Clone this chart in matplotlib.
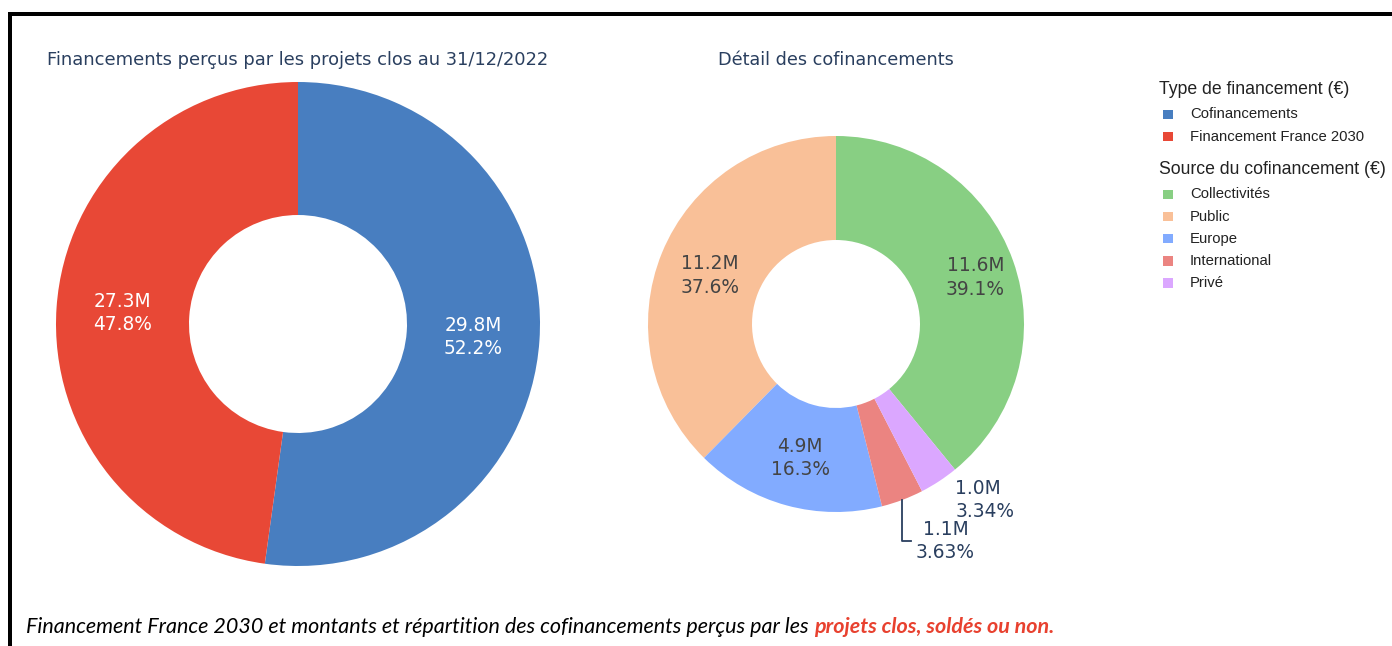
import matplotlib
matplotlib.use("Agg")
import matplotlib.pyplot as plt
from matplotlib.patches import Rectangle
import numpy as np

W, H = 1392, 646

# Financements perçus (M€)
left_labels = ["Cofinancements", "Financement France 2030"]
left_values = [29.8, 27.3]
left_colors = ["#487EC0", "#E84836"]

# Détail des cofinancements (M€)
right_labels = ["Collectivités", "Public", "Europe", "International", "Privé"]
right_values = [11.64, 11.20, 4.86, 1.08, 0.995]
right_colors = ["#88CF83", "#F9C098", "#82ABFF", "#EB8481", "#DBA7FF"]

TITLE_COLOR = "#2a3f5f"
INSIDE_DARK = "#444444"
LABEL_SIZE = 13.4

fig = plt.figure(figsize=(W / 100, H / 100), dpi=100)
ax = fig.add_axes([0, 0, 1, 1])


def Y(py):
    # pixel row (from top) -> data y
    return H - py


def donut(values, colors, cx, cy, radius, hole):
    frac0 = values[0] / sum(values)
    wedges, _ = ax.pie(values, colors=colors, startangle=90 - 360 * frac0,
                       counterclock=True, center=(cx, Y(cy)), radius=radius,
                       wedgeprops=dict(width=radius - hole, linewidth=0))
    return wedges


def fmt(v, total):
    return f"{v:.1f}M\n{100 * v / total:.3g}%"


# --- left donut
lw = donut(left_values, left_colors, 298, 324, 242, 109)
tot = sum(left_values)
for w, v in zip(lw, left_values):
    a = np.deg2rad((w.theta1 + w.theta2) / 2)
    r = (242 + 109) / 2
    ax.text(298 + r * np.cos(a), Y(325) + r * np.sin(a), fmt(v, tot),
            ha="center", va="center", color="white", fontsize=LABEL_SIZE,
            linespacing=1.3)

# --- right donut
rw = donut(right_values, right_colors, 836, 324, 188, 84)
tot = sum(right_values)
for i, (w, v) in enumerate(zip(rw, right_values)):
    a = np.deg2rad((w.theta1 + w.theta2) / 2)
    if v / tot > 0.05:
        r = (188 + 84) / 2 + (12 if i == 0 else 0)
        ax.text(836 + r * np.cos(a), Y(327) + r * np.sin(a), fmt(v, tot),
                ha="center", va="center", color=INSIDE_DARK, fontsize=LABEL_SIZE,
                linespacing=1.3)
    elif right_labels[i] == "Privé":
        ox, oy = 836 + 190 * np.cos(a), Y(324) + 190 * np.sin(a)
        ax.text(ox + 15, oy + 4, fmt(v, tot), ha="left", va="top",
                color=TITLE_COLOR, fontsize=LABEL_SIZE, linespacing=1.3)
    else:
        ox, oy = 836 + 188 * np.cos(a), Y(324) + 188 * np.sin(a)
        ax.plot([ox, ox, ox + 9], [oy, Y(541), Y(541)], color=TITLE_COLOR, lw=1.3)
        ax.text(ox + 43, Y(541), fmt(v, tot), ha="center", va="center",
                color=TITLE_COLOR, fontsize=LABEL_SIZE, linespacing=1.3,
                multialignment="center")

ax.set_xlim(0, W)
ax.set_ylim(0, H)
ax.set_aspect("auto")
ax.axis("off")

# titles
ax.text(298, Y(60), "Financements perçus par les projets clos au 31/12/2022",
        ha="center", va="center", color=TITLE_COLOR, fontsize=12.9)
ax.text(836, Y(60), "Détail des cofinancements", ha="center", va="center",
        color=TITLE_COLOR, fontsize=12.7)


# legends (drawn by hand to match the two titled groups)
def legend_group(title, labels, colors, top):
    ax.text(1159, Y(top), title, ha="left", va="center", fontsize=12.7,
            family="Liberation Sans", color="#222222")
    for k, (lab, c) in enumerate(zip(labels, colors)):
        yy = top + 24.5 + 22.2 * k
        ax.add_patch(Rectangle((1163, Y(yy) - 4.5), 9.5, 9.5, facecolor=c,
                               edgecolor="none"))
        ax.text(1190, Y(yy), lab, ha="left", va="center", fontsize=10.7,
                family="Liberation Sans", color="#222222")


legend_group("Type de financement (€)", left_labels, left_colors, 90)
legend_group("Source du cofinancement (€)", right_labels, right_colors, 170)

# frame lines (top and left)
fig.add_artist(Rectangle((8 / W, 1 - 16 / H), 1 - 8 / W, 4 / H,
                         transform=fig.transFigure, color="black", lw=0))
fig.add_artist(Rectangle((8 / W, 0), 4 / W, 1 - 12 / H,
                         transform=fig.transFigure, color="black", lw=0))

# caption
cap1 = fig.text(26 / W, 1 - 627 / H,
                "Financement France 2030 et montants et répartition des cofinancements perçus par les ",
                ha="left", va="center", fontsize=15.45, style="italic", family="Lato",
                color="black")
renderer = fig.canvas.get_renderer()
bb = cap1.get_window_extent(renderer)
fig.text(bb.x1 / W, 1 - 627 / H, "projets clos, soldés ou non.", ha="left",
         va="center", fontsize=15.45, style="italic", weight="bold", family="Lato",
         color="#E8412F")

fig.savefig("out.png", dpi=100)
